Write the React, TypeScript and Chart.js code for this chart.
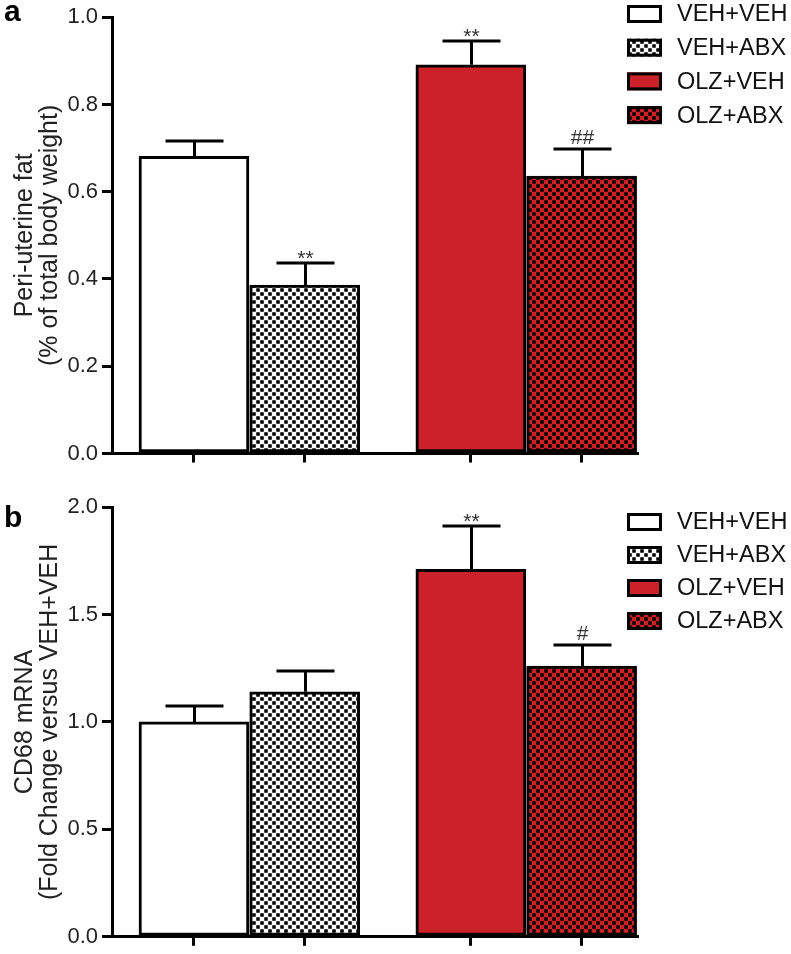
import React, { useEffect, useRef } from "react";
import { Chart, registerables } from "chart.js";

Chart.register(...registerables);

// ---------- data ----------
const groups = ["VEH+VEH", "VEH+ABX", "OLZ+VEH", "OLZ+ABX"];
const xPositions = [1, 2, 3.5, 4.5];

const fatMeans = [0.681, 0.386, 0.891, 0.636];
const fatSEM = [0.035, 0.05, 0.055, 0.062];
const fatMarks = ["", "**", "**", "##"];
const fatTicks = [0, 0.2, 0.4, 0.6, 0.8, 1.0];
const fatTitle = ["Peri-uterine fat", "(% of total body weight)"];

const cd68Means = [1.0, 1.14, 1.71, 1.26];
const cd68SEM = [0.075, 0.095, 0.2, 0.1];
const cd68Marks = ["", "", "**", "#"];
const cd68Ticks = [0, 0.5, 1.0, 1.5, 2.0];
const cd68Title = ["CD68 mRNA", "(Fold Change versus VEH+VEH"];

// ---------- style ----------
const FONT = "'Liberation Sans', Arial, Helvetica, sans-serif";
const RED = "#CB2229";
const W = 791;
const H = 477;

function makePattern(ctx: CanvasRenderingContext2D, bg: string) {
  const c = document.createElement("canvas");
  c.width = 8;
  c.height = 8;
  const g = c.getContext("2d")!;
  g.fillStyle = bg;
  g.fillRect(0, 0, 8, 8);
  g.fillStyle = "#000";
  g.fillRect(0.25, 0.25, 3.5, 3.5);
  g.fillRect(4.25, 4.25, 3.5, 3.5);
  return ctx.createPattern(c, "repeat") as CanvasPattern;
}

type PanelProps = {
  means: number[];
  sems: number[];
  marks: string[];
  yTicks: number[];
  title: string[];
  padTop: number;
  xAxisH: number;
  label: string;
  labelBaseline: number;
  legendTop: number;
  legendGap: number;
};

function Panel(p: PanelProps) {
  const ref = useRef<HTMLCanvasElement>(null);
  useEffect(() => {
    const canvas = ref.current!;
    const ctx = canvas.getContext("2d")!;
    const whiteChecker = makePattern(ctx, "#ffffff");
    const redChecker = makePattern(ctx, RED);
    const fills: (string | CanvasPattern)[] = ["#ffffff", whiteChecker, RED, redChecker];
    const yMax = p.yTicks[p.yTicks.length - 1];

    const decor = {
      id: "decor",
      afterDatasetsDraw(chart: any) {
        const c = chart.ctx as CanvasRenderingContext2D;
        const xs = chart.scales.x;
        const ys = chart.scales.y;
        c.save();
        c.strokeStyle = "#000";
        c.lineWidth = 3;
        c.lineCap = "butt";
        p.means.forEach((m, i) => {
          const px = Math.round(xs.getPixelForValue(xPositions[i])) + 0.5;
          const yTop = ys.getPixelForValue(m);
          const yCap = Math.round(ys.getPixelForValue(m + p.sems[i]));
          c.beginPath();
          c.moveTo(px, yTop);
          c.lineTo(px, yCap);
          c.moveTo(px - 29, yCap);
          c.lineTo(px + 29, yCap);
          c.stroke();
          const mk = p.marks[i];
          if (mk) {
            c.fillStyle = "#333";
            c.font = `21px ${FONT}`;
            c.textAlign = "center";
            c.textBaseline = "alphabetic";
            const base = mk.includes("*") ? yCap + 2 : yCap - 5;
            c.fillText(mk, px, base);
          }
        });
        c.restore();
      },
      afterDraw(chart: any) {
        const c = chart.ctx as CanvasRenderingContext2D;
        c.save();
        // panel label
        c.fillStyle = "#000";
        c.font = `bold 30px ${FONT}`;
        c.textAlign = "left";
        c.textBaseline = "alphabetic";
        c.fillText(p.label, 4, p.labelBaseline);
        // legend
        groups.forEach((g, i) => {
          const top = p.legendTop + i * p.legendGap;
          const x0 = 627;
          const bw = 35;
          const bh = 18;
          c.fillStyle = fills[i] as any;
          c.fillRect(x0, top, bw, bh);
          c.strokeStyle = "#000";
          c.lineWidth = 3;
          c.strokeRect(x0 + 1.5, top + 1.5, bw - 3, bh - 3);
          c.fillStyle = "#111";
          c.font = `23.5px ${FONT}`;
          c.textBaseline = "middle";
          c.fillText(g, 677, top + bh / 2 + 1);
        });
        c.restore();
      },
    };

    const chart = new Chart(canvas, {
      type: "bar",
      data: {
        datasets: [
          {
            data: xPositions.map((x, i) => ({ x, y: p.means[i] })),
            backgroundColor: fills as any,
            borderColor: "#000",
            borderWidth: 3,
            borderSkipped: false,
            barThickness: 110,
          } as any,
        ],
      },
      options: {
        animation: false,
        responsive: false,
        devicePixelRatio: 1,
        layout: { padding: { top: p.padTop, right: W - 637, left: 0, bottom: 0 } },
        plugins: { legend: { display: false }, tooltip: { enabled: false } },
        scales: {
          x: {
            type: "linear",
            min: 0.26,
            max: 5.0,
            offset: false,
            afterBuildTicks: (s: any) => {
              s.ticks = xPositions.map((v) => ({ value: v }));
            },
            ticks: { display: false },
            grid: { offset: false, drawOnChartArea: false, drawTicks: true, tickLength: 9, color: "#000", lineWidth: 3 },
            border: { display: true, color: "#000", width: 3 },
            afterFit: (s: any) => {
              s.height = p.xAxisH;
            },
          },
          y: {
            type: "linear",
            min: 0,
            max: yMax,
            afterBuildTicks: (s: any) => {
              s.ticks = p.yTicks.map((v) => ({ value: v }));
            },
            ticks: {
              callback: (v: any) => Number(v).toFixed(1),
              color: "#222",
              font: { family: FONT, size: 22 },
              padding: 4,
            },
            grid: { drawOnChartArea: false, drawTicks: true, tickLength: 10, color: "#000", lineWidth: 3 },
            border: { display: true, color: "#000", width: 3 },
            title: {
              display: true,
              text: p.title,
              color: "#222",
              font: { family: FONT, size: 25, lineHeight: 1.02 },
              padding: { top: 12, bottom: 0 },
            },
            afterFit: (s: any) => {
              s.width = 112;
            },
          },
        },
      } as any,
      plugins: [decor],
    });
    return () => chart.destroy();
  }, []);
  return <canvas ref={ref} width={W} height={H} style={{ display: "block", width: W, height: H }} />;
}

export default function App() {
  return (
    <div style={{ position: "absolute", left: 0, top: 0, width: W, height: 954, background: "#fff" }}>
      <Panel
        means={fatMeans}
        sems={fatSEM}
        marks={fatMarks}
        yTicks={fatTicks}
        title={fatTitle}
        padTop={15.5}
        xAxisH={23.5}
        label="a"
        labelBaseline={21}
        legendTop={5}
        legendGap={33.7}
      />
      <Panel
        means={cd68Means}
        sems={cd68SEM}
        marks={cd68Marks}
        yTicks={cd68Ticks}
        title={cd68Title}
        padTop={30}
        xAxisH={11}
        label="b"
        labelBaseline={50}
        legendTop={36}
        legendGap={33}
      />
    </div>
  );
}
